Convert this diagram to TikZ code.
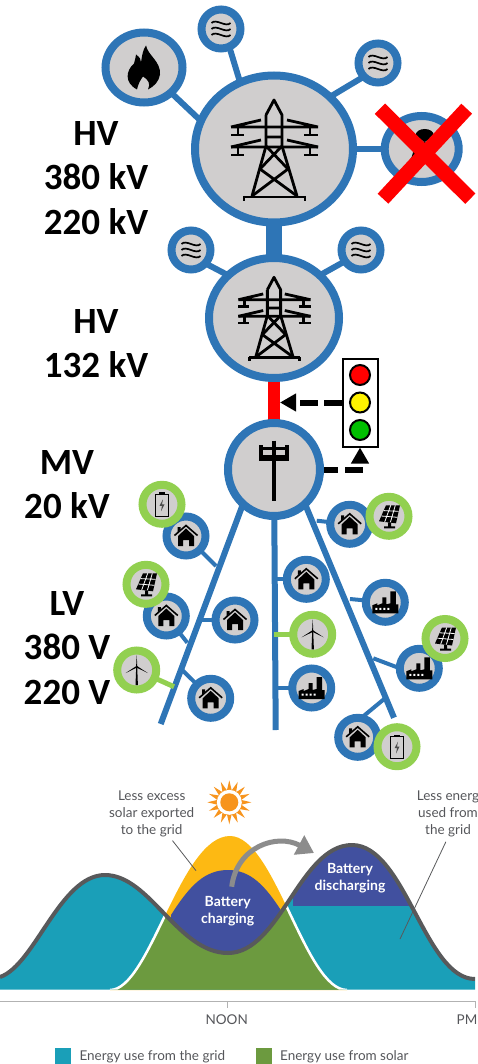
\documentclass[tikz,border=0pt]{standalone}
\usepackage{fontspec}
\setmainfont{Carlito}
\newfontfamily\chartfont{Lato}
\usetikzlibrary{shapes.geometric,arrows.meta,backgrounds}
\definecolor{ringblue}{HTML}{2E75B6}
\definecolor{ringgreen}{HTML}{92D050}
\definecolor{busgrey}{HTML}{D0CECE}
\definecolor{gridteal}{HTML}{1A9FB8}
\definecolor{solargreen}{HTML}{6C9A3F}
\definecolor{solaryellow}{HTML}{FDB913}
\definecolor{batteryblue}{HTML}{41509F}
\definecolor{curvegrey}{HTML}{58595B}
\definecolor{chartink}{HTML}{55565A}
\definecolor{sunorange}{HTML}{F7941D}
\tikzstyle{ring} = [ellipse, draw=ringblue, fill=busgrey, line width=8pt, inner sep=0pt, outer sep=0pt]
\tikzstyle{bigbus} = [ring, minimum width=158pt, minimum height=147pt]
\tikzstyle{midbus} = [ring, minimum width=130pt, minimum height=120pt]
\tikzstyle{mvbus} = [ring, minimum width=92pt, minimum height=93pt]
\tikzstyle{plant} = [ring, minimum width=77pt, minimum height=70pt]
\tikzstyle{small} = [ring, minimum width=39pt, minimum height=39pt]
\tikzstyle{gen} = [small, draw=ringgreen]
\tikzstyle{trunk} = [ringblue, line width=16pt]
\tikzstyle{spur} = [ringblue, line width=6pt]
\tikzstyle{feeder} = [ringblue, line width=6pt]
\tikzstyle{drop} = [ringblue, line width=4pt]
\tikzstyle{gendrop} = [ringgreen, line width=5pt]
\tikzstyle{congested} = [red, line width=12pt]
\tikzstyle{signal} = [line width=6pt, -{Triangle[length=16pt,width=17pt]}]
\tikzstyle{lamp} = [circle, draw=black, line width=2pt, minimum size=20pt, inner sep=0pt]
\tikzstyle{volt} = [align=center, font=\fontsize{37}{44.5}\selectfont\bfseries]
\tikzstyle{note} = [align=center, text=chartink, font=\chartfont\fontsize{13.5}{17}\selectfont]
\tikzstyle{batt} = [align=center, text=white, font=\chartfont\fontsize{14}{17}\selectfont\bfseries]
\tikzstyle{key} = [anchor=west, text=chartink, font=\chartfont\fontsize{13.5}{16}\selectfont, inner sep=0pt]
\tikzstyle{swatch} = [minimum size=16pt, inner sep=0pt]
\tikzset{
towericon/.pic={
\draw [line width=2.8pt, line join=round] (-8,34) -- (0,49) -- (8,34) -- (8,3) -- (23,-47) (-8,34) -- (-8,3) -- (-22,-47);
\draw [line width=2.8pt] (-30,-48) -- (31,-48) (-30,-47) -- (-30,-52) (31,-47) -- (31,-52);
\draw [line width=2.8pt] (-13,29) -- (-43,22) (13,29) -- (44,22) (-43,22) -- (44,22) (-43,2) -- (44,2) (-8,12) -- (8,12);
\draw [line width=2.8pt] (-13,9) -- (-43,2) (13,9) -- (44,2);
\draw [line width=2.8pt] (-36,22) -- (-36,14) (-43,14) -- (-30,14) (36,22) -- (36,14) (30,14) -- (44,14);
\draw [line width=2.8pt] (-36,2) -- (-36,-6) (-43,-6) -- (-30,-6) (36,2) -- (36,-6) (30,-6) -- (44,-6);
\draw [line width=2.8pt] (-8,3) -- (14,-20) (8,3) -- (-14,-20) (-14,-20) -- (23,-47) (14,-20) -- (-22,-47);
},
flameicon/.pic={
\fill (-7,-22) .. controls (-20,-15) and (-18,-3) .. (-10,4) .. controls (-9,8) and (-8,11) .. (-8,13) .. controls (-4,10) and (-3,8) .. (-3,5) .. controls (-2,12) and (-1,18) .. (2,22) .. controls (4,12) and (17,6) .. (16,-7) .. controls (15,-14) and (10,-19) .. (4,-22) .. controls (7,-16) and (4,-12) .. (-1,-9) .. controls (-4,-13) and (-6,-17) .. (-7,-22) -- cycle;
},
waveicon/.pic={
\draw [line width=1.7pt] (-9.5,6) .. controls (-5,11) and (5,1) .. (9.5,6) (-9.5,0) .. controls (-5,5) and (5,-5) .. (9.5,0) (-9.5,-6) .. controls (-5,-1) and (5,-11) .. (9.5,-6);
},
coalicon/.pic={
\fill (3,14) ellipse (9pt and 6pt);
\fill (-6,6) -- (4,8) -- (2,-14) -- (-16,-18) -- (-10,-8) -- cycle;
},
poleicon/.pic={
\draw [line width=3.5pt] (0,29) -- (0,-31);
\draw [line width=3.5pt] (-14,21) -- (14,21) (-13,21) -- (-13,25) (13,21) -- (13,25) (-13,12) -- (-13,21) (13,12) -- (13,21);
\draw [line width=6pt] (-15,12) -- (15,12);
},
houseicon/.pic={
\draw [line width=1.6pt] (-11.5,0.5) -- (0,10.5) -- (11.5,0.5);
\fill (-8,-10) -- (-8,0) -- (0,7.5) -- (8,0) -- (8,-10) -- (3,-10) -- (3,-4) -- (-3,-4) -- (-3,-10) -- cycle;
\fill (-8.5,4) -- (-8.5,9) -- (-5.5,9) -- (-5.5,6.5) -- cycle;
},
factoryicon/.pic={
\fill (-13,-11) -- (-13,-3) -- (-8,-1) -- (-8,-3) -- (-3,-1) -- (-3,5) -- (1,5) -- (1,-2) -- (5,-1) -- (5,11) -- (10.5,11) -- (10.5,-2) -- (13,-2) -- (13,-11) -- cycle;
\fill [white] (-10,-7.5) rectangle (-8,-5.5) (-6,-7.5) rectangle (-4,-5.5) (-2,-7.5) rectangle (0,-5.5) (2,-7.5) rectangle (4,-5.5);
},
batteryicon/.pic={
\draw [line width=1pt] (-6.5,-12) rectangle (6.5,10);
\fill (-3,10) rectangle (3,12);
\fill [black!70] (1,5) -- (-2.5,-1.5) -- (0,-1.5) -- (-1,-7) -- (2.5,0) -- (0,0) -- cycle;
},
solaricon/.pic={
\fill (-3,11) -- (11,11) -- (7,-7) -- (-10,-5) -- cycle;
\draw [white, line width=.8pt] (1.7,11) -- (-4.3,-5.7) (6.3,11) -- (1.3,-6.3) (-5.3,5.7) -- (9.7,5) (-7.7,.3) -- (8.3,-1);
\fill (-1,-6) rectangle (2,-10) (-5,-10) rectangle (6,-12);
},
windicon/.pic={
\fill (-1.2,-15) -- (1.2,-15) -- (.5,3) -- (-.5,3) -- cycle;
\fill (-.6,3) -- (0,15) -- (.6,3) -- cycle;
\fill (-.3,4) -- (-11,-3) -- (.3,2.5) -- cycle;
\fill (-.3,2.5) -- (11,-3) -- (.3,4) -- cycle;
}
}
\newcommand{\demandline}{(0,-977) .. controls (35,-965) and (60,-875) .. (105,-875) .. controls (150,-875) and (178,-953) .. (228,-953) .. controls (280,-953) and (300,-845) .. (352,-845) .. controls (405,-845) and (425,-979) .. (475,-979)}
\newcommand{\solarline}{(110,-990) .. controls (150,-990) and (180,-836) .. (230,-836) .. controls (275,-836) and (305,-990) .. (347,-990)}

\begin{document}
\begin{tikzpicture}[x=1pt, y=1pt, node distance=100pt]
\useasboundingbox (0,0) rectangle (478,-1064);
% buses
\node (hva) [bigbus] at (274,-149) {};
\pic at (hva) {towericon};
\node (hvb) [midbus, below of=hva, yshift=-69] {};
\pic [scale=.83] at (hvb) {towericon};
\node (mv) [mvbus, below of=hvb, yshift=-51.5] {};
\pic at (mv) {poleicon};

% sources on the high voltage buses
\node (fire) [plant, left of=hva, xshift=-30, yshift=81.5] {};
\pic at (fire) {flameicon};
\node (wavea) [small, above of=hva, xshift=-53, yshift=20] {};
\pic at (wavea) {waveicon};
\node (waveb) [small, right of=hva, xshift=4, yshift=86] {};
\pic at (waveb) {waveicon};
\node (coal) [plant, right of=hva, xshift=47.7, minimum width=74pt, minimum height=66pt] {};
\pic at (coal) {coalicon};
\node (wavec) [small, left of=hvb, xshift=17, yshift=68] {};
\pic at (wavec) {waveicon};
\node (waved) [small, right of=hvb, xshift=-13, yshift=68] {};
\pic at (waved) {waveicon};

% traffic light
\node (light) [rectangle, draw=black, line width=2pt, fill=white, minimum width=35pt, minimum height=88pt, right of=mv, xshift=-14, yshift=67] {};
\node (amber) [lamp, fill=yellow, at=(light)] {};
\node (stop) [lamp, fill=red, above of=amber, yshift=-72.5] {};
\node (go) [lamp, fill=green!75!black, below of=amber, yshift=72.5] {};

% left feeder
\node (homea) [small, below of=mv, xshift=-88, yshift=33.5] {};
\pic at (homea) {houseicon};
\node (bata) [gen, left of=homea, xshift=76, yshift=31.7] {};
\pic at (bata) {batteryicon};
\node (homeb) [small, below of=mv, xshift=-107.7, yshift=-46.5] {};
\pic at (homeb) {houseicon};
\node (sola) [gen, above of=homeb, xshift=-20.3, yshift=-68.3] {};
\pic at (sola) {solaricon};
\node (homec) [small, below of=mv, xshift=-39, yshift=-50.5] {};
\pic at (homec) {houseicon};
\node (winda) [gen, below of=mv, xshift=-137.3, yshift=-100.5] {};
\pic at (winda) {windicon};
\node (homed) [small, below of=mv, xshift=-63.3, yshift=-128.8] {};
\pic at (homed) {houseicon};

% middle feeder
\node (homee) [small, below of=mv, xshift=32.3, yshift=-9.8] {};
\pic at (homee) {houseicon};
\node (windb) [gen, below of=mv, xshift=38.7, yshift=-64.8] {};
\pic at (windb) {windicon};
\node (facta) [small, below of=mv, xshift=37.7, yshift=-118.5] {};
\pic at (facta) {factoryicon};

% right feeder
\node (homef) [small, below of=mv, xshift=75.7, yshift=45.2] {};
\pic at (homef) {houseicon};
\node (solb) [gen, right of=homef, xshift=-60.7, yshift=8] {};
\pic at (solb) {solaricon};
\node (factb) [small, below of=mv, xshift=111.3, yshift=-32.8] {};
\pic at (factb) {factoryicon};
\node (factc) [small, below of=mv, xshift=145.3, yshift=-98.8] {};
\pic at (factc) {factoryicon};
\node (solc) [gen, above of=factc, xshift=25.7, yshift=-70.2] {};
\pic at (solc) {solaricon};
\node (homeg) [small, below of=mv, xshift=83.7, yshift=-167.8] {};
\pic at (homeg) {houseicon};
\node (batb) [gen, right of=homeg, xshift=-60.7, yshift=-9.4] {};
\pic at (batb) {batteryicon};

% free ends
\coordinate (endl) at (160.7,-724);
\coordinate (endm) at (275.7,-730);
\coordinate (endr) at (394,-717.7);
\coordinate (tapa) at (216,-566);
\coordinate (tapb) at (187.3,-642.7);
\coordinate (tapc) at (201,-620);
\coordinate (tapw) at (174,-686.7);
\coordinate (tapd) at (182.3,-670);
\coordinate (tape) at (275,-579.3);
\coordinate (tapv) at (274,-634.3);
\coordinate (tapf) at (276,-688);
\coordinate (tapg) at (316.7,-520.7);
\coordinate (taph) at (350,-599);
\coordinate (tapi) at (373.3,-658.3);
\coordinate (tapj) at (385,-698.3);
\coordinate (limit) at (280,-402.5);

%edges
\begin{scope}[on background layer]
\draw [trunk] (hva) -- (hvb);
\draw [congested] (hvb) -- (mv);
\draw [spur] (fire.317) -- (hva.159);
\draw [spur] (wavea.295) -- (hva.117);
\draw [spur] (waveb.224) -- (hva.43);
\draw [spur] (coal) -- (hva);
\draw [spur] (wavec.317) -- (hvb.137);
\draw [spur] (waved.215) -- (hvb.43);
\draw [feeder] (mv.228) -- (endl);
\draw [feeder] (mv) -- (endm);
\draw [feeder] (mv.312) -- (endr);
\draw [drop] (homea) -- (tapa);
\draw [drop] (homeb) -- (tapb);
\draw [drop] (homec) -- (tapc);
\draw [gendrop] (winda) -- (tapw);
\draw [drop] (homed) -- (tapd);
\draw [drop] (homee) -- (tape);
\draw [gendrop] (windb) -- (tapv);
\draw [drop] (facta) -- (tapf);
\draw [drop] (homef) -- (tapg);
\draw [drop] (factb) -- (taph);
\draw [drop] (factc.180) -- (tapi);
\draw [drop] (homeg.80) -- (tapj);
\end{scope}
\draw [signal, dash pattern=on 18pt off 6pt] (light) -- (limit);
\draw [signal, shorten <=4pt, dash pattern=on 14pt off 7pt on 18pt off 6pt] (mv) -| (light);

% crossed out plant
\draw [red, line width=14.6pt] (380,-108.7) -- (470.3,-198.7);
\draw [red, line width=14.6pt] (466.7,-108.7) -- (383,-198.7);

% voltage levels
\node (lvla) [volt] at (96,-178) {HV\\380 kV\\220 kV};
\node (lvlb) [volt] at (96,-343.5) {HV\\132 kV};
\node (lvlc) [volt] at (67,-484.5) {MV\\20 kV};
\node (lvld) [volt] at (67,-648) {LV\\380 V\\220 V};

% load curve
\fill [solaryellow] \solarline -- cycle;
\fill [batteryblue] (171,-915) .. controls (190,-885) and (205,-870) .. (228,-870) .. controls (250,-870) and (265,-885) .. (282,-912) -- (282,-960) -- (171,-960) -- cycle;
\fill [gridteal] (0,-989.5) -- \demandline -- (475,-989.5) -- cycle;
\begin{scope}
\clip (0,-989.5) -- \demandline -- (475,-989.5) -- cycle;
\fill [solargreen] \solarline -- cycle;
\draw [white, line width=2.5pt] \solarline;
\fill [batteryblue] (293,-840) rectangle (425,-906);
\end{scope}
\draw [curvegrey, line width=4pt, line join=round] \demandline;

% chart texts
\node (sun) [star, star points=16, star point ratio=1.8, minimum size=44pt, inner sep=0pt, fill=sunorange] at (229.3,-802.3) {};
\node (sunring) [circle, fill=white, minimum size=25pt, inner sep=0pt, at=(sun)] {};
\node (sundisk) [circle, fill=sunorange, minimum size=18pt, inner sep=0pt, at=(sun)] {};
\node (lessex) [note] at (151.7,-814) {Less excess\\solar exported\\to the grid};
\node (lessgrid) [note, inner sep=0pt] at (448,-814) {Less energ\\used from\\the grid};
\node (chg) [batt] at (227.7,-911) {Battery\\charging};
\node (dischg) [batt] at (350,-877.7) {Battery\\discharging};
\coordinate (yellowpt) at (196,-870.7);
\coordinate (tealpt) at (400,-939);
\draw [curvegrey, line width=.8pt] (lessex) -- (yellowpt);
\draw [curvegrey, line width=.8pt, shorten <=5pt] (lessgrid.south) -- (tealpt);
\coordinate (chgfrom) at (231.7,-886.7);
\coordinate (chgto) at (314,-853);
\draw [black!45, line width=5pt, -{Triangle[length=17pt,width=21pt]}] (chgfrom) .. controls (236.7,-846.7) and (276.7,-833) .. (chgto);

% axis
\coordinate (axl) at (0,-1001.3);
\coordinate (axr) at (475,-1001.3);
\coordinate (noontick) at (227.7,-1001.3);
\coordinate (noonend) at (227.7,-1008);
\coordinate (pmend) at (475,-1008);
\draw [black!30, line width=1pt] (axl) -- (axr);
\draw [black!30, line width=1pt] (noontick) -- (noonend);
\draw [black!30, line width=1pt] (axr) -- (pmend);
\node (noon) [note] at (226.7,-1020) {NOON};
\node (pm) [note, anchor=east, inner sep=0pt] at (477.5,-1020) {PM};

% legend
\node (keygrid) [swatch, fill=gridteal] at (63,-1056) {};
\node (textgrid) [key] at (79.3,-1056.7) {Energy use from the grid};
\node (keysolar) [swatch, fill=solargreen] at (264,-1056) {};
\node (textsolar) [key] at (280,-1056.7) {Energy use from solar};
\end{tikzpicture}
\end{document}
